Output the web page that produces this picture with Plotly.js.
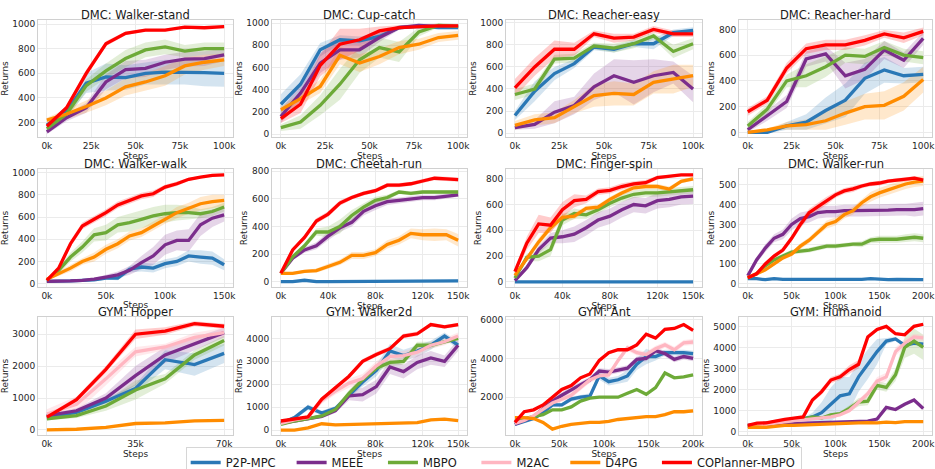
<!DOCTYPE html>
<html><head><meta charset="utf-8">
<script src="https://cdn.plot.ly/plotly-3.0.1.min.js"></script>
<style>html,body{margin:0;padding:0;background:#fff;} #chart{width:935px;height:469px;}</style>
</head><body><div id="chart"></div>
<script>
// ---------------- DATA ----------------
const SERIES = ['P2P-MPC','MEEE','MBPO','M2AC','D4PG','COPlanner-MBPO'];

// steps (thousands)
const STEPS_100_10 = [0,11.1,22.2,33.3,44.4,55.6,66.7,77.8,88.9,100];
const STEPS_150_16 = [0,10,20,30,40,50,60,70,80,90,100,110,120,130,140,150];
const STEPS_200_21 = [0,10,20,30,40,50,60,70,80,90,100,110,120,130,140,150,160,170,180,190,200];
const STEPS_70_7   = [0,11.7,23.3,35,46.7,58.3,70];
const STEPS_150_14 = [0,11.5,23,34.6,46.2,57.7,69.2,80.8,92.3,103.8,115.4,126.9,138.5,150];
const STEPS_200_20 = [0,10.5,21,31.6,42.1,52.6,63.2,73.7,84.2,94.7,105.3,115.8,126.3,136.8,147.4,157.9,168.4,178.9,189.5,200];

const XT_100 = [0,25,50,75,100];      const XL_100 = ['0k','25k','50k','75k','100k'];
const XT_150A = [0,50,100,150];       const XL_150A = ['0k','50k','100k','150k'];
const XT_150B = [0,40,80,120,150];    const XL_150B = ['0k','40k','80k','120k','150k'];
const XT_200 = [0,50,100,150,200];    const XL_200 = ['0k','50k','100k','150k','200k'];
const XT_70 = [0,35,70];              const XL_70 = ['0k','35k','70k'];

// order: P2P-MPC, MEEE, MBPO, M2AC, D4PG, COPlanner-MBPO
const WALKER_STAND_MEAN = [
  [180,290,520,570,565,600,610,610,605,600],
  [125,240,320,530,630,640,690,715,720,750],
  [150,270,500,620,720,790,815,780,800,800],
  null,
  [220,270,330,400,490,530,580,660,690,710],
  [170,320,600,840,925,950,950,975,970,980]];
const WALKER_STAND_SD = [
  [20,40,80,110,100,90,100,100,110,110],
  [20,30,40,60,70,70,60,60,60,50],
  [20,40,50,60,70,60,60,50,50,50],
  null,
  [20,40,50,60,70,70,80,70,60,50],
  [15,20,30,20,15,10,10,8,8,8]];

const CUP_CATCH_MEAN = [
  [270,450,760,850,840,880,960,970,960,960],
  [160,370,640,760,760,870,960,980,970,970],
  [60,110,260,450,670,780,740,920,980,970],
  null,
  [220,320,430,710,640,700,780,810,870,890],
  [140,270,620,810,850,930,960,970,975,975]];
const CUP_CATCH_SD = [
  [90,90,60,40,40,30,20,15,15,15],
  [60,80,90,90,70,40,20,15,15,15],
  [30,60,90,140,120,90,90,40,20,20],
  null,
  [30,50,60,80,80,70,60,50,40,40],
  [40,80,100,140,100,40,20,10,10,10]];

const REACHER_EASY_MEAN = [
  [160,380,540,630,780,760,810,810,910,930],
  [50,80,190,250,420,520,460,520,550,400],
  [350,400,670,680,790,770,810,880,740,810],
  null,
  [70,120,140,240,340,360,350,460,490,520],
  [410,600,760,760,900,860,870,940,900,900]];
const REACHER_EASY_SD = [
  [40,90,60,40,30,30,30,50,30,30],
  [20,40,100,80,120,150,200,150,100,120],
  [50,50,40,40,30,40,40,30,60,50],
  null,
  [40,50,50,60,100,110,100,100,130,100],
  [80,80,80,60,30,40,30,30,30,30]];

const REACHER_HARD_MEAN = [
  [0,0,50,80,170,250,420,485,440,450],
  [20,130,240,570,610,440,490,640,560,730],
  [50,180,400,440,510,600,590,660,600,580],
  null,
  [0,20,50,60,90,150,200,210,280,410],
  [160,250,500,650,680,680,715,765,735,785]];
const REACHER_HARD_SD = [
  [10,10,30,60,100,130,120,100,60,60],
  [20,40,50,60,60,100,80,70,60,50],
  [30,40,50,90,80,60,60,50,50,50],
  null,
  [5,10,30,40,70,90,100,110,110,100],
  [30,30,40,40,40,40,40,30,40,30]];

const WALKER_WALK_MEAN = [
  [20,20,25,30,35,50,50,130,150,140,180,200,250,240,230,170],
  [20,20,25,30,40,60,80,120,190,250,350,390,390,530,590,620],
  [30,120,240,330,440,460,530,550,580,610,630,640,640,630,650,690],
  null,
  [40,90,140,200,240,310,360,430,460,520,580,640,680,720,740,750],
  [30,140,360,520,580,640,710,750,790,810,870,900,940,960,975,980]];
const WALKER_WALK_SD = [
  [5,5,5,5,10,15,20,30,40,40,40,40,50,60,60,50],
  [5,5,5,10,10,20,30,40,60,80,90,90,100,100,80,60],
  [10,30,40,50,60,70,70,80,80,80,80,70,60,40,40,40],
  null,
  [10,20,30,30,40,40,40,40,40,40,40,50,50,60,60,50],
  [10,20,30,30,30,30,30,30,30,30,20,20,15,10,10,8]];

const CHEETAH_RUN_MEAN = [
  [0,0,10,0,0,0,0,0,0,0,5,5,5,5,5,5],
  [60,170,230,260,330,390,430,510,550,580,590,600,610,610,620,630],
  [60,180,260,360,360,400,480,540,590,610,650,640,650,650,650,650],
  null,
  [60,60,75,80,110,140,190,190,210,270,300,350,340,340,340,300],
  [60,230,320,440,490,570,610,640,660,700,700,710,730,750,745,740]];
const CHEETAH_RUN_SD = [
  [8,8,8,8,8,8,8,8,8,8,8,8,8,8,8,8],
  [10,15,20,25,30,30,30,30,30,25,20,20,20,20,20,15],
  [10,15,20,25,40,50,40,30,25,20,15,15,15,15,15,15],
  null,
  [10,10,10,15,20,20,25,25,25,30,30,35,40,45,40,45],
  [10,15,20,20,20,20,15,15,15,15,15,15,15,15,15,15]];

const FINGER_SPIN_MEAN = [
  [0,0,0,0,0,0,0,0,0,0,0,0,0,0,0,0],
  [10,110,250,340,350,370,420,480,510,560,600,590,630,640,660,665],
  [30,190,200,250,480,530,520,560,610,650,680,690,690,700,710,715],
  null,
  [50,180,310,420,500,510,570,580,640,690,730,740,740,720,780,800],
  [80,300,450,440,560,630,640,700,710,740,760,770,810,820,830,830]];
const FINGER_SPIN_SD = [
  [5,5,5,5,5,5,5,5,5,5,5,5,5,5,5,5],
  [10,20,30,40,50,60,60,60,60,60,60,60,60,60,60,60],
  [10,30,40,50,40,40,30,30,30,30,30,30,30,30,30,30],
  null,
  [10,20,30,30,30,25,20,20,20,20,20,20,20,20,15,15],
  [20,50,70,60,60,50,30,25,25,25,20,20,15,10,10,10]];

const WALKER_RUN_MEAN = [
  [25,25,20,25,22,22,20,22,22,20,22,22,22,22,25,22,20,22,22,22,20],
  [40,120,180,230,250,300,330,340,360,365,365,370,370,370,372,373,373,375,375,375,380],
  [30,50,90,120,140,160,165,170,180,190,190,195,200,200,220,225,225,225,230,235,230],
  null,
  [30,50,70,100,130,150,190,220,260,300,315,350,370,410,440,460,475,490,505,515,520],
  [30,50,100,140,170,230,300,360,390,420,450,470,480,495,505,510,520,525,528,535,525]];
const WALKER_RUN_SD = [
  [5,5,5,5,5,5,5,5,5,5,5,5,5,5,5,5,5,5,5,5,5],
  [10,15,20,20,25,30,30,30,30,30,30,30,30,30,30,30,30,30,30,35,35],
  [5,8,10,10,12,12,12,12,12,12,12,12,12,15,15,18,18,18,20,20,20],
  null,
  [5,5,8,10,10,10,15,15,15,20,20,20,20,20,25,25,25,25,25,25,25],
  [5,8,10,12,12,15,20,20,20,20,15,15,15,12,12,12,10,10,10,10,10]];

const HOPPER_MEAN = [
  [400,550,900,1300,2200,2050,2400],
  [450,600,1000,1700,2350,2700,3050],
  [350,450,750,1250,1600,2350,2800],
  [500,800,1600,2450,2600,2900,3050],
  [0,20,80,200,220,280,300],
  [400,950,1900,3000,3100,3330,3250]];
const HOPPER_SD = [
  [60,60,80,120,300,350,300],
  [60,80,150,300,250,200,150],
  [50,80,150,300,150,150,150],
  [150,250,200,150,100,150,150],
  [10,10,15,20,20,20,20],
  [50,80,100,150,120,80,80]];

const WALKER2D_MEAN = [
  [300,550,1000,750,950,1550,2100,2600,3450,3250,3450,3700,4100,3700],
  [300,400,500,600,850,1500,1550,1900,2750,2550,2950,3150,3000,3700],
  [250,400,500,620,900,1600,2200,2700,2950,3000,3700,3700,3850,4000],
  [300,450,550,1300,1700,2050,2250,2800,3200,3250,3400,3700,3850,4100],
  [0,0,100,280,230,250,280,300,300,330,330,450,480,420],
  [400,500,580,1350,1850,2350,3000,3300,3550,4100,4200,4600,4500,4600]];
const WALKER2D_SD = [
  [50,80,120,100,100,150,200,250,300,250,250,200,150,150],
  [50,60,60,80,100,200,300,300,300,300,300,300,250,250],
  [40,50,60,80,100,150,150,150,150,150,150,150,100,100],
  [50,60,80,150,150,200,200,200,200,200,200,150,150,150],
  [20,20,20,30,30,30,30,30,30,30,30,30,30,30],
  [40,50,60,80,100,100,100,100,100,100,100,80,80,80]];

const ANT_MEAN = [
  [600,750,900,1200,1600,1600,1900,2000,2050,3100,2800,2900,3100,3700,4100,4100,4300,4300,4300,4250],
  [600,800,1000,1400,1800,2100,2400,2650,2900,3350,3300,3400,3500,3950,4000,4400,4250,3950,4100,4000],
  [750,900,1000,1100,1350,1350,1500,1800,1950,2000,2000,2000,2200,2400,2150,2500,3250,3000,3050,3150],
  [650,800,1050,1400,1700,1900,2100,2500,2900,3100,3150,3900,4550,4300,4200,4500,4700,4450,4800,4850],
  [950,950,900,700,350,500,600,650,700,700,750,850,900,950,1000,1000,1100,1250,1250,1300],
  [700,1250,1350,1600,2000,2400,2600,3000,3200,3900,4300,4450,4450,4700,5250,5050,5500,5550,5750,5450]];
const ANT_SD = [
  [50,60,80,100,100,100,120,120,150,200,200,200,300,300,400,200,150,150,150,150],
  [50,60,80,100,120,150,150,150,150,150,150,150,150,150,150,150,150,150,150,150],
  [40,50,50,60,60,60,60,60,60,60,60,60,60,60,60,60,60,60,60,60],
  [50,60,80,100,120,120,150,150,150,150,150,150,150,150,150,150,150,150,150,150],
  [40,40,50,50,50,50,50,50,50,50,50,50,50,50,50,50,60,70,80,100],
  [50,60,60,60,80,80,80,80,80,80,80,80,80,80,80,80,80,80,80,80]];

const HUMANOID_MEAN = [
  [300,350,400,480,540,580,620,700,900,1300,1700,1800,2600,3200,3800,4300,4400,4100,4200,4150],
  [250,280,300,330,350,380,400,420,430,450,450,480,490,500,600,1150,1050,1300,1500,1100],
  [250,300,350,420,500,550,600,700,650,800,850,1100,1400,1450,2200,2100,2700,4000,4300,4000],
  [200,300,350,420,480,520,560,600,650,700,800,1000,1400,1800,2400,2600,3800,4200,4500,4450],
  [200,220,200,250,300,300,320,350,360,380,400,400,420,430,420,450,430,480,480,480],
  [300,400,420,520,580,640,700,1500,1900,2450,2600,2950,3200,4500,4850,5000,4650,4600,5000,5100]];
const HUMANOID_SD = [
  [30,30,30,40,40,40,50,200,500,800,900,800,700,700,600,150,100,100,100,100],
  [20,20,20,20,20,20,20,20,20,20,20,20,30,30,40,60,60,60,60,60],
  [30,30,30,40,40,40,40,50,60,80,100,150,200,200,200,200,300,500,600,600],
  [30,30,30,40,40,40,40,50,60,60,80,100,150,150,200,200,200,200,150,150],
  [20,20,20,20,20,20,20,20,20,20,20,20,20,20,20,20,20,20,20,20],
  [30,40,40,40,40,40,50,100,150,150,150,200,200,100,80,50,50,50,50,50]];

// ---------------- STYLE / LAYOUT ----------------
const COLORS = ['#2a78b6','#7b2d8c','#6daa38','#ffb6c1','#ff8c00','#ff0000'];
const FILLS  = ['rgba(42,120,182,0.2)','rgba(123,45,140,0.2)','rgba(109,170,56,0.2)','rgba(255,182,193,0.3)','rgba(255,140,0,0.2)','rgba(255,0,0,0.2)'];
// extra spacing after legend labels (non-breaking spaces), to mimic column spacing
const LEGEND_PAD = [3,4,4,3,4,0];

const PANELS = [
  {t:'DMC: Walker-stand', s:STEPS_100_10, m:WALKER_STAND_MEAN, d:WALKER_STAND_SD, xr:[-5,105], xt:XT_100, xl:XL_100, yr:[83,1033], yt:[200,400,600,800,1000]},
  {t:'DMC: Cup-catch', s:STEPS_100_10, m:CUP_CATCH_MEAN, d:CUP_CATCH_SD, xr:[-5,105], xt:XT_100, xl:XL_100, yr:[-25,1028], yt:[0,200,400,600,800,1000]},
  {t:'DMC: Reacher-easy', s:STEPS_100_10, m:REACHER_EASY_MEAN, d:REACHER_EASY_SD, xr:[-5,105], xt:XT_100, xl:XL_100, yr:[-35,1025], yt:[0,200,400,600,800,1000]},
  {t:'DMC: Reacher-hard', s:STEPS_100_10, m:REACHER_HARD_MEAN, d:REACHER_HARD_SD, xr:[-5,105], xt:XT_100, xl:XL_100, yr:[-36,873], yt:[0,200,400,600,800]},
  {t:'DMC: Walker-walk', s:STEPS_150_16, m:WALKER_WALK_MEAN, d:WALKER_WALK_SD, xr:[-7.5,157.5], xt:XT_150A, xl:XL_150A, yr:[-30,1033], yt:[0,200,400,600,800,1000]},
  {t:'DMC: Cheetah-run', s:STEPS_150_16, m:CHEETAH_RUN_MEAN, d:CHEETAH_RUN_SD, xr:[-7.5,157.5], xt:XT_150B, xl:XL_150B, yr:[-39,817], yt:[0,200,400,600,800]},
  {t:'DMC: Finger-spin', s:STEPS_150_16, m:FINGER_SPIN_MEAN, d:FINGER_SPIN_SD, xr:[-7.5,157.5], xt:XT_150B, xl:XL_150B, yr:[-40,876], yt:[0,200,400,600,800]},
  {t:'DMC: Walker-run', s:STEPS_200_21, m:WALKER_RUN_MEAN, d:WALKER_RUN_SD, xr:[-10,210], xt:XT_200, xl:XL_200, yr:[-17,581], yt:[0,100,200,300,400,500]},
  {t:'GYM: Hopper', s:STEPS_70_7, m:HOPPER_MEAN, d:HOPPER_SD, xr:[-3.5,73.5], xt:XT_70, xl:XL_70, yr:[-160,3540], yt:[0,1000,2000,3000]},
  {t:'GYM: Walker2d', s:STEPS_150_14, m:WALKER2D_MEAN, d:WALKER2D_SD, xr:[-7.5,157.5], xt:XT_150B, xl:XL_150B, yr:[-210,4930], yt:[0,1000,2000,3000,4000]},
  {t:'GYM: Ant', s:STEPS_200_20, m:ANT_MEAN, d:ANT_SD, xr:[-10,210], xt:XT_200, xl:XL_200, yr:[50,6140], yt:[2000,4000,6000]},
  {t:'GYM: Humanoid', s:STEPS_200_20, m:HUMANOID_MEAN, d:HUMANOID_SD, xr:[-10,210], xt:XT_200, xl:XL_200, yr:[-160,5445], yt:[0,1000,2000,3000,4000,5000]}
];

const W = 935, H = 469;
const COLX = [[38,233],[272,467],[506,702],[739,932]];
const ROWY = [[20,137],[169,287],[317,435]];
const FONT = 'DejaVu Sans, sans-serif';

const traces = [];
const layout = {
  width: W, height: H,
  margin: {l:0, r:0, t:0, b:0, autoexpand:false},
  paper_bgcolor: '#ffffff', plot_bgcolor: '#ffffff',
  font: {family: FONT, size: 9, color: '#262626'},
  showlegend: true,
  legend: {orientation:'h', x:0.528, xanchor:'center', y:1-447/H, yanchor:'top',
           font:{family:FONT, size:11.5, color:'#1a1a1a'}, bordercolor:'#d6d6d6', borderwidth:1,
           bgcolor:'rgba(255,255,255,0.9)', itemwidth:30, tracegroupgap:0},
  annotations: []
};
const seen = {};

PANELS.forEach((p, i) => {
  const r = Math.floor(i/4), c = i%4;
  const ax = i===0 ? '' : String(i+1);
  const xd = [COLX[c][0]/W, COLX[c][1]/W];
  const yd = [1-ROWY[r][1]/H, 1-ROWY[r][0]/H];
  layout['xaxis'+ax] = {
    domain: xd, anchor: 'y'+ax, range: p.xr, tickmode:'array', tickvals: p.xt, ticktext: p.xl,
    showgrid:true, gridcolor:'#ebebeb', gridwidth:1, zeroline:false,
    showline:true, mirror:true, linecolor:'#d0d0d0', linewidth:1, ticks:'',
    tickfont:{size:9, color:'#262626'}, automargin:false, ticklabeloverflow:'allow',
    title:{text:'Steps', font:{size:9, color:'#262626'}, standoff:1}
  };
  layout['yaxis'+ax] = {
    domain: yd, anchor: 'x'+ax, range: p.yr, tickmode:'array', tickvals: p.yt,
    showgrid:true, gridcolor:'#ebebeb', gridwidth:1, zeroline:false,
    showline:true, mirror:true, linecolor:'#d0d0d0', linewidth:1, ticks:'',
    tickfont:{size:9, color:'#262626'}, automargin:false, ticklabeloverflow:'allow',
    title:{text:'Returns', font:{size:9, color:'#262626'}, standoff:2}
  };
  layout.annotations.push({
    text: p.t, xref:'paper', yref:'paper', x:(xd[0]+xd[1])/2, y:1-(ROWY[r][0]+4)/H,
    xanchor:'center', yanchor:'bottom', showarrow:false,
    font:{family:FONT, size:11.5, color:'#1a1a1a'}
  });
  // bands
  p.m.forEach((mean, k) => {
    if (!mean) return;
    const sd = p.d[k];
    const up = mean.map((v,j)=>v+sd[j]);
    const lo = mean.map((v,j)=>v-sd[j]);
    traces.push({
      x: p.s.concat(p.s.slice().reverse()), y: up.concat(lo.slice().reverse()),
      xaxis:'x'+ax, yaxis:'y'+ax, type:'scatter', mode:'lines', fill:'toself',
      fillcolor: FILLS[k], line:{width:0, color:FILLS[k]}, hoverinfo:'skip', showlegend:false
    });
  });
  // lines
  p.m.forEach((mean, k) => {
    if (!mean) return;
    const first = !seen[k]; seen[k] = true;
    traces.push({
      x: p.s, y: mean, xaxis:'x'+ax, yaxis:'y'+ax, type:'scatter', mode:'lines',
      name: SERIES[k] + '\u00a0'.repeat(LEGEND_PAD[k]), legendgroup: SERIES[k], legendrank: k+1, showlegend: first,
      line:{color: COLORS[k], width: 3.3}
    });
  });
});

Plotly.newPlot('chart', traces, layout, {displayModeBar:false, staticPlot:true});
</script></body></html>
